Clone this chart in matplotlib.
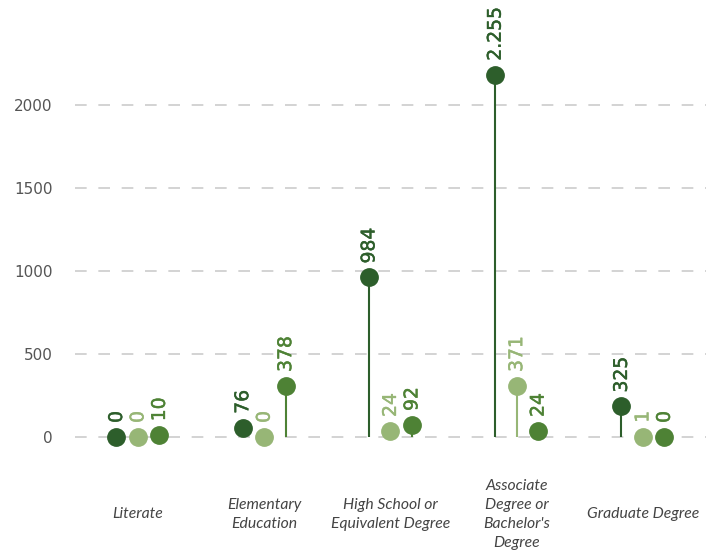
import matplotlib.pyplot as plt
import matplotlib.patheffects as pe
import numpy as np

# categories and the three series (marker heights as drawn)
categories = ['Literate', 'Elementary\nEducation', 'High School or\nEquivalent Degree',
              'Associate\nDegree or\nBachelor\'s\nDegree', 'Graduate Degree']
series_a = [0, 55, 960, 2181, 183]
series_b = [0, 0, 36, 307, 1]
series_c = [10, 307, 72, 36, 0]
# value labels as printed on the chart
labels_a = ['0', '76', '984', '2.255', '325']
labels_b = ['0', '0', '24', '371', '1']
labels_c = ['10', '378', '92', '24', '0']
yticks = [0, 500, 1000, 1500, 2000]

colors = ['#2d5e2b', '#97b676', '#4e8235']

fig = plt.figure(figsize=(7.06, 5.54), dpi=100)
ax = fig.add_axes([0.106, 0.1516, 0.894, 0.8394])

x = np.arange(len(categories))
offsets = [-0.17, 0.0, 0.17]
for vals, labs, col, off in zip([series_a, series_b, series_c],
                                [labels_a, labels_b, labels_c], colors, offsets):
    xs = x + off
    ax.vlines(xs, 0, vals, color=col, lw=1.5, zorder=3)
    ax.plot(xs, vals, 'o', color=col, markersize=12.5, zorder=4)
    for xi, v, t in zip(xs, vals, labs):
        ax.annotate(t, (xi, v), xytext=(0, 10), textcoords='offset points',
                    rotation=90, ha='center', va='bottom', color=col,
                    fontsize=13.5,
                    path_effects=[pe.withStroke(linewidth=0.35, foreground=col)])

ax.set_xlim(-0.5, len(categories) - 0.5)
ax.set_ylim(-200, 2600)
ax.set_yticks(yticks)
ax.set_yticklabels([str(t) for t in yticks], color='#555555', fontsize=11)
ax.yaxis.grid(True, color='#d3d3d3', lw=1.4, linestyle=(0, (6, 6)), zorder=0)
ax.set_axisbelow(True)

ax.set_xticks(x)
ax.set_xticklabels(categories, fontsize=11.3, style='italic', color='#444444',
                   family='Lato', linespacing=1.45)
for lbl in ax.get_xticklabels():
    lbl.set_va('center')
ax.tick_params(axis='x', length=0, pad=32)
ax.tick_params(axis='y', length=0, pad=16)

for s in ax.spines.values():
    s.set_visible(False)

plt.savefig('out.png', dpi=100)
plt.close()
